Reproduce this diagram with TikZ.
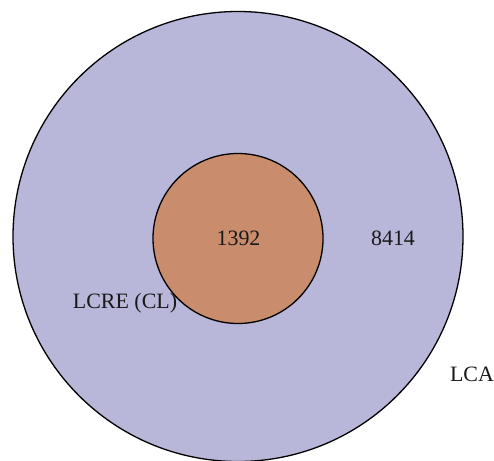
\documentclass[tikz,border=0pt]{standalone}
\usepackage{fontspec}
\setmainfont{Liberation Serif}
\definecolor{lavender}{RGB}{184,183,217}
\definecolor{clay}{RGB}{201,140,108}
\begin{document}
\begin{tikzpicture}[x=1bp,y=-1bp,
  setcircle/.style={draw=black, line width=1.3bp},
  lbl/.style={anchor=base, inner sep=0pt, font=\fontsize{22}{26}\selectfont, text=black!90}]
\useasboundingbox (0,0) rectangle (494,461);
\node[setcircle, circle, fill=lavender, minimum size=450bp, inner sep=0pt] (lca) at (238,236.5) {};
\node[setcircle, circle, fill=clay, minimum size=170bp, inner sep=0pt] (lcre) at (238,238.5) {};
\node[lbl] (n1392) at (238.5,246) {1392};
\node[lbl] (n8414) at (393,246) {8414};
\node[lbl] (tlcre) at (125,308.5) {LCRE (CL)};
\node[lbl] (tlca) at (472,381.5) {LCA};
\end{tikzpicture}
\end{document}
